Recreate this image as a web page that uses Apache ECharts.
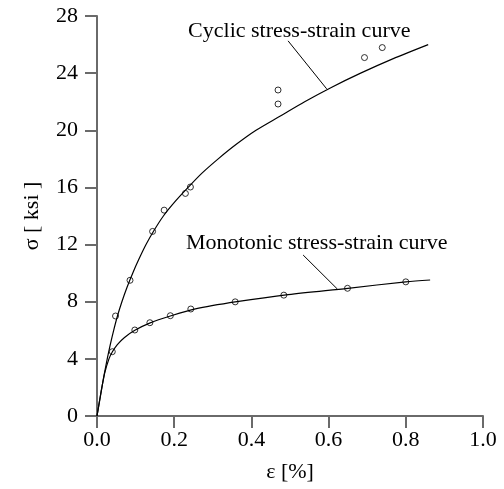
<!DOCTYPE html>
<html>
<head>
<meta charset="utf-8">
<script src="https://cdn.jsdelivr.net/npm/echarts@6/dist/echarts.min.js"></script>
<style>
html,body{margin:0;padding:0;background:#fff;}
#chart{width:504px;height:489px;}
</style>
</head>
<body>
<div id="chart"></div>
<script>
// Fitted curves: [strain %, stress ksi]
const cyclicCurve = [
  [0,0],[0.0063,1],[0.0127,2],[0.0193,3],[0.0265,4],[0.0344,5],[0.0432,6],[0.053,7],
  [0.0645,8],[0.0776,9],[0.0925,10],[0.109,11],[0.127,12],[0.148,13],[0.172,14],
  [0.202,15],[0.236,16],[0.272,17],[0.314,18],[0.360,19],[0.412,20],[0.475,21],
  [0.538,22],[0.607,23],[0.683,24],[0.766,25],[0.858,26]
];
const monotonicCurve = [
  [0,0],[0.0063,1],[0.0126,2],[0.0199,3],[0.031,4],[0.0399,4.5],[0.0527,5],[0.0713,5.5],
  [0.0981,6],[0.1363,6.5],[0.19,7],[0.255,7.5],[0.3625,8],[0.495,8.5],[0.65,8.94],
  [0.80,9.39],[0.863,9.52]
];
// Measured test points
const cyclicPoints = [
  [0.048,7.0],[0.0855,9.5],[0.144,12.92],[0.174,14.41],[0.229,15.58],[0.242,16.03],
  [0.469,21.84],[0.469,22.82],[0.693,25.09],[0.739,25.79]
];
const monotonicPoints = [
  [0.0396,4.5],[0.098,6.02],[0.137,6.53],[0.19,7.02],[0.243,7.49],[0.358,7.99],
  [0.484,8.46],[0.649,8.94],[0.80,9.39]
];
// Annotation labels and leader lines (data coordinates)
const cyclicLabel = {text:'Cyclic stress-strain curve', at:[0.236,26.95]};
const cyclicLeader = [[0.495,26.26],[0.595,22.9]];
const monoLabel = {text:'Monotonic stress-strain curve', at:[0.2306,12.1]};
const monoLeader = [[0.534,11.27],[0.623,8.88]];
const xTicks = {min:0, max:1, interval:0.2};
const yTicks = {min:0, max:28, interval:4};

const FONT = "'Liberation Serif','Times New Roman',serif";
const axisCol = '#6a6a6a';
const chart = echarts.init(document.getElementById('chart'), null, {renderer:'canvas'});

function leader(pts){
  return {
    silent:true, symbol:['none','none'], label:{show:false},
    lineStyle:{color:'#000', width:1, type:'solid'},
    data:[[{coord:pts[0]},{coord:pts[1]}]]
  };
}

const option = {
  animation:false,
  backgroundColor:'#fff',
  grid:{left:97, right:21, top:16, bottom:73, containLabel:false},
  xAxis:{
    type:'value', min:xTicks.min, max:xTicks.max, interval:xTicks.interval,
    name:'ε [%]', nameLocation:'middle', nameGap:45,
    nameTextStyle:{fontFamily:FONT, fontSize:22, color:'#000'},
    axisLine:{show:true, onZero:false, lineStyle:{color:axisCol, width:2}},
    axisTick:{show:true, inside:false, length:12, lineStyle:{color:axisCol, width:2}},
    axisLabel:{fontFamily:FONT, fontSize:22, color:'#000', margin:13,
      formatter:v=>v.toFixed(1)},
    splitLine:{show:false}
  },
  yAxis:{
    type:'value', min:yTicks.min, max:yTicks.max, interval:yTicks.interval,
    name:'σ [ ksi ]', nameLocation:'middle', nameGap:54, nameRotate:90,
    nameTextStyle:{fontFamily:FONT, fontSize:22, color:'#000'},
    axisLine:{show:true, onZero:false, lineStyle:{color:axisCol, width:2}},
    axisTick:{show:true, inside:false, length:12, lineStyle:{color:axisCol, width:2}},
    axisLabel:{fontFamily:FONT, fontSize:22, color:'#000', margin:19},
    splitLine:{show:false}
  },
  series:[
    {type:'line', data:cyclicCurve, smooth:0.3, symbol:'none',
     lineStyle:{color:'#000', width:1.2}, markLine:leader(cyclicLeader)},
    {type:'line', data:monotonicCurve, smooth:0.3, symbol:'none',
     lineStyle:{color:'#000', width:1.2}, markLine:leader(monoLeader)},
    {type:'scatter', data:cyclicPoints, symbol:'circle', symbolSize:6,
     itemStyle:{color:'rgba(0,0,0,0)', borderColor:'#000', borderWidth:1}},
    {type:'scatter', data:monotonicPoints, symbol:'circle', symbolSize:6,
     itemStyle:{color:'rgba(0,0,0,0)', borderColor:'#000', borderWidth:1}}
  ]
};
chart.setOption(option);

function labelGraphic(l){
  const p = chart.convertToPixel({gridIndex:0}, l.at);
  return {type:'text', x:p[0], y:p[1],
    style:{text:l.text, fill:'#000', font:'22px '+FONT, textAlign:'left', textVerticalAlign:'middle'}};
}
chart.setOption({graphic:[labelGraphic(cyclicLabel), labelGraphic(monoLabel)]});
</script>
</body>
</html>
